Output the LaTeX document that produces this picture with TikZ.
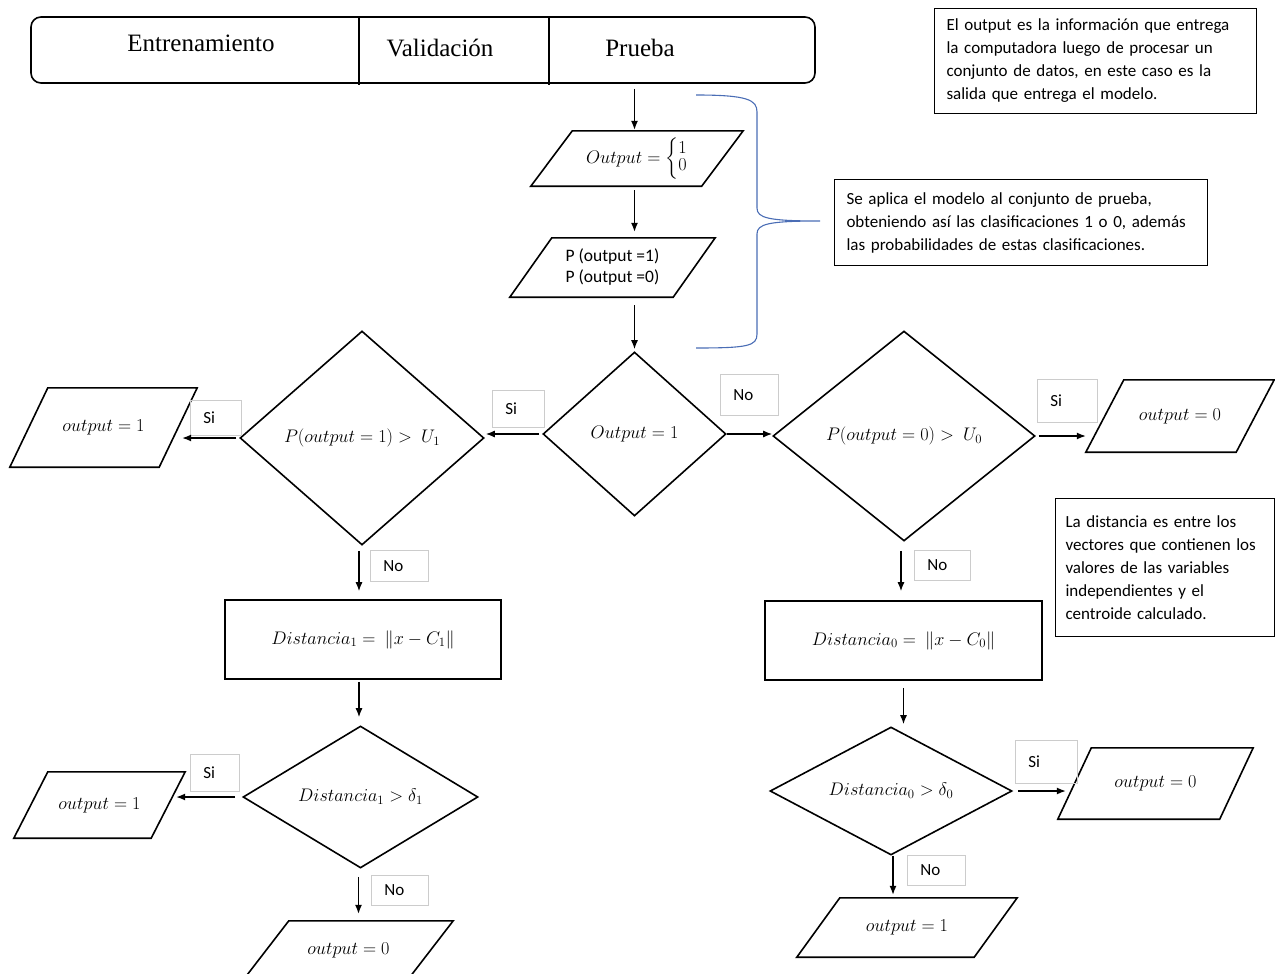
\RequirePackage{fix-cm}
\documentclass[tikz,border=0pt]{standalone}
\usepackage[no-math]{fontspec}
\usepackage{amsmath}
\setmainfont{Carlito}
\newfontfamily\barfont{Liberation Serif}
\usetikzlibrary{arrows.meta}
\usetikzlibrary{shapes.geometric}
\definecolor{bracecol}{HTML}{4A6DB5}

% slanted data frame around a rectangular node: #1 node name, #2 half of the slant
\newcommand\slantframe[2]{%
  \draw[shapeline] ([xshift=#2]#1.north west) -- ([xshift=#2]#1.north east)
    -- ([xshift=-#2]#1.south east) -- ([xshift=-#2]#1.south west) -- cycle;}

\begin{document}
\begin{tikzpicture}[x=1pt,y=-1pt,
  shapeline/.style={draw, line width=1.6},
  mathfont/.style={font=\fontsize{18.2}{22}\selectfont},
  decision/.style={diamond, shapeline, inner sep=0, aspect=2, mathfont},
  io/.style={rectangle, inner sep=0, mathfont},
  process/.style={rectangle, shapeline, inner sep=0, mathfont},
  bartext/.style={font=\barfont\fontsize{25}{28}\selectfont, inner sep=0},
  arr/.style={-{Latex[length=9,width=7]}, line width=1.3},
  tag/.style={draw=black!20, line width=0.8, anchor=north west, inner xsep=13, inner ysep=0,
              align=left, font=\fontsize{17}{19}\selectfont},
  note/.style={draw, line width=1, anchor=north west, inner xsep=12, inner ysep=0,
               align=left, font=\fontsize{17}{23}\selectfont},
  brace/.style={draw=bracecol, line width=1.1}
]
\useasboundingbox (0,0) rectangle (1275,974);

% data split bar
\node[shapeline, rounded corners=10, minimum width=784, minimum height=66, inner sep=0] (bar) at (423,50) {};
\draw[line width=1.6] (359,17) -- (359,85);
\draw[line width=1.6] (549,17) -- (549,85);
\node[bartext] (cell1) at (201,43) {Entrenamiento};
\node[bartext] (cell2) at (440,48) {Validación};
\node[bartext] (cell3) at (640,48) {Prueba};

% notes
\node[note, minimum width=322, minimum height=105, text width=298] (n1) at (934,8)
  {El output es la información que entrega\\la computadora luego de procesar un\\conjunto de datos, en este caso es la\\salida que entrega el modelo.};
\node[note, minimum width=373, minimum height=86, text width=349] (n2) at (834,179)
  {Se aplica el modelo al conjunto de prueba,\\obteniendo así las clasificaciones 1 o 0, además\\las probabilidades de estas clasificaciones.};
\node[note, minimum width=219, minimum height=138, text width=199, inner xsep=10] (n3) at (1055,498)
  {La distancia es entre los\\vectores que contienen los\\valores de las variables\\independientes y el\\centroide calculado.};

% central column
\node[io, minimum width=170.5, minimum height=55] (p1) at (637,158.5)
  {$Output = \left\{\renewcommand{\arraystretch}{0.8}\begin{array}{@{}l@{}}1\\0\end{array}\right.$};
\slantframe{p1}{20.75}
\node[io, minimum width=163, minimum height=59, align=center, font=\fontsize{17.5}{21}\selectfont] (p2) at (612.5,267.5)
  {P (output =1)\\P (output =0)};
\slantframe{p2}{21}
\node[decision, minimum width=183, minimum height=164] (d0) at (634.5,434) {$Output = 1$};

% left branch
\node[decision, minimum width=244, minimum height=214] (dl) at (362,438) {$P(output = 1) >\ U_1$};
\node[io, minimum width=149, minimum height=79] (l1) at (103.5,427.5) {$output = 1$};
\slantframe{l1}{19}
\node[process, minimum width=276, minimum height=79] (bl) at (363,639.5) {$Distancia_1 =\ \lVert x - C_1\rVert$};
\node[decision, minimum width=235, minimum height=142] (dl2) at (360.5,797) {$Distancia_1 > \delta_1$};
\node[io, minimum width=137, minimum height=66] (l2) at (99.5,805) {$output = 1$};
\slantframe{l2}{17}
\node[io, minimum width=164, minimum height=58] (l3) at (348.5,950) {$output = 0$};
\slantframe{l3}{22.5}

% right branch
\node[decision, minimum width=262, minimum height=210] (dr) at (904,436) {$P(output = 0) >\ U_0$};
\node[io, minimum width=150, minimum height=72] (r1) at (1180,416) {$output = 0$};
\slantframe{r1}{19}
\node[process, minimum width=277, minimum height=79] (br) at (903.5,640.5) {$Distancia_0 =\ \lVert x - C_0\rVert$};
\node[decision, minimum width=242, minimum height=128] (dr2) at (891,791) {$Distancia_0 > \delta_0$};
\node[io, minimum width=161.5, minimum height=71] (r2) at (1155.5,783.5) {$output = 0$};
\slantframe{r2}{16.75}
\node[io, minimum width=177, minimum height=59] (r3) at (907,927.5) {$output = 1$};
\slantframe{r3}{21.5}

% branch tags
\node[tag, minimum width=52, minimum height=37, text width=26] (ta) at (492,390) {Si};
\node[tag, minimum width=58, minimum height=41, text width=32] (tb) at (720,374) {No};
\node[tag, minimum width=51, minimum height=35, text width=25] (tc) at (190,400) {Si};
\node[tag, minimum width=58, minimum height=31, text width=32] (td) at (370,550) {No};
\node[tag, minimum width=49, minimum height=37, text width=23] (te) at (190,754) {Si};
\node[tag, minimum width=57, minimum height=30, text width=31] (tf) at (371,875) {No};
\node[tag, minimum width=60, minimum height=43, text width=34] (tg) at (1037,379) {Si};
\node[tag, minimum width=56, minimum height=30, text width=30] (th) at (914,550) {No};
\node[tag, minimum width=62, minimum height=43, text width=36] (ti) at (1015,740) {Si};
\node[tag, minimum width=58, minimum height=30, text width=32] (tj) at (907,855) {No};

% connectors
\draw[arr, shorten <=5, shorten >=1] (bar.south -| d0.north) -- (p1.north -| d0.north);
\draw[arr, shorten <=4, shorten >=6] (p1.south -| d0.north) -- (p2.north -| d0.north);
\draw[arr, shorten <=8, shorten >=2] (p2.south -| d0.north) -- (d0.north);
\draw[arr, shorten <=3, shorten >=1] (d0.west) -- (d0.west -| dl.east);
\draw[arr] (d0.east) -- (d0.east -| dr.west);
\draw[arr, shorten <=3, shorten >=4] (dl.west) -- (dl.west -| l1.east);
\draw[arr, shorten <=5, shorten >=8] ([xshift=-3]dl.south) -- ([xshift=-3]dl.south |- bl.north);
\draw[arr, shorten <=2, shorten >=8] ([xshift=-4]bl.south) -- ([xshift=-4]bl.south |- dl2.north);
\draw[arr, shorten <=7, shorten >=8] (dl2.west) -- (dl2.west -| l2.east);
\draw[arr, shorten <=8, shorten >=7] ([xshift=-2]dl2.south) -- ([xshift=-2]dl2.south |- l3.north);
\draw[arr, shorten <=3, shorten >=19] (dr.east) -- (dr.east -| r1.west);
\draw[arr, shorten <=9, shorten >=9] ([xshift=-3]dr.south) -- ([xshift=-3]dr.south |- br.north);
\draw[arr, shorten <=7, shorten >=2] (br.south) -- (br.south |- dr2.north);
\draw[arr, shorten <=5, shorten >=8.75] (dr2.east) -- (dr2.east -| r2.west);
\draw[arr, shorten >=3] ([xshift=2]dr2.south) -- ([xshift=2]dr2.south |- r3.north);

% brace grouping the test-set steps
\coordinate (btop) at (696,95);
\coordinate (btip) at (820,221);
\coordinate (bbot) at (696,348);
\draw[brace] (btop) .. controls (748,95) and (757,100) .. (757,112) -- (757,208)
  .. controls (757,218) and (768,221) .. (btip)
  .. controls (768,221) and (757,224) .. (757,234) -- (757,334)
  .. controls (757,346) and (748,348) .. (bbot);
\end{tikzpicture}
\end{document}
